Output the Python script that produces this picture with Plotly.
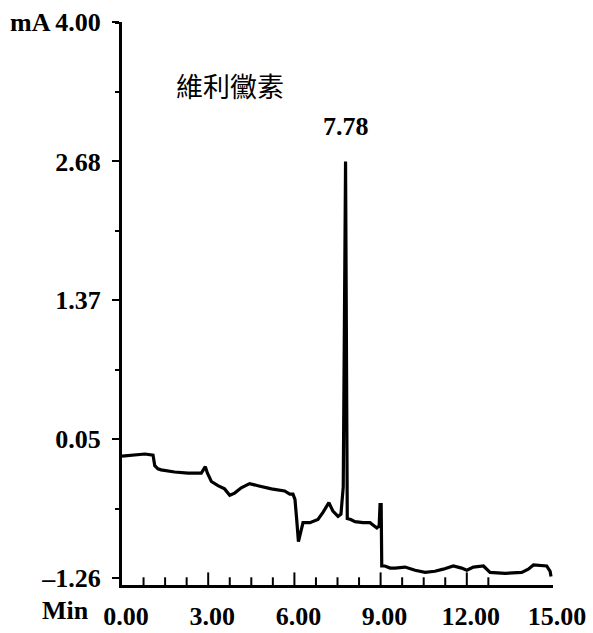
import plotly.graph_objects as go

# Chromatogram trace: retention time (min) vs detector signal (mA)
time_min = [
    0.00, 0.45, 0.80, 1.08, 1.14, 1.25, 1.36, 1.83, 2.30, 2.76, 2.90, 2.97,
    3.11, 3.34, 3.57, 3.75, 3.92, 4.15, 4.44, 4.73, 5.20, 5.66, 5.84, 5.95,
    6.02, 6.08, 6.14, 6.22, 6.30, 6.54, 6.82, 7.00, 7.20, 7.34, 7.52, 7.62,
    7.70, 7.78, 7.84, 7.96, 8.11, 8.39, 8.63, 8.87, 8.95, 8.98, 9.02, 9.04,
    9.15, 9.33, 9.50, 9.85, 10.20, 10.55, 10.89, 11.18, 11.53, 11.82, 12.00,
    12.23, 12.58, 12.81, 13.33, 13.91, 14.14, 14.32, 14.61, 14.78, 14.90, 14.93,
]
signal_mA = [
    -0.11, -0.10, -0.09, -0.10, -0.20, -0.23, -0.24, -0.26, -0.27, -0.27, -0.21, -0.27,
    -0.35, -0.39, -0.42, -0.48, -0.46, -0.41, -0.37, -0.39, -0.42, -0.44, -0.47, -0.47,
    -0.52, -0.71, -0.92, -0.83, -0.74, -0.74, -0.71, -0.64, -0.55, -0.63, -0.68, -0.66,
    -0.40, 2.68, -0.70, -0.71, -0.73, -0.74, -0.74, -0.79, -0.77, -0.57, -0.57, -1.15,
    -1.15, -1.17, -1.17, -1.16, -1.19, -1.21, -1.20, -1.18, -1.15, -1.17, -1.19,
    -1.16, -1.15, -1.21, -1.22, -1.21, -1.18, -1.14, -1.15, -1.15, -1.20, -1.25,
]

# Axis ticks and labels
y_ticks = [4.00, 2.68, 1.37, 0.05, -1.26]
y_ticktext = ["4.00", "2.68", "1.37", "0.05", "–1.26"]
x_ticks = [0, 3, 6, 9, 12, 15]
x_ticktext = ["0.00", "3.00", "6.00", "9.00", "12.00", "15.00"]
x_major_marks = [3, 6, 9, 12]
x_minor_marks = [0.75 * i for i in range(1, 18) if i % 4 != 0]

peak_time = 7.78
peak_height = 2.68
compound_name = "維利黴素"

SERIF = "Liberation Serif, Times New Roman, serif"
FS = 26
X_RANGE = [0, 15]
Y_RANGE = [-1.33, 4.00]

fig = go.Figure()
fig.add_trace(go.Scatter(
    x=time_min, y=signal_mA, mode="lines",
    line=dict(color="black", width=3.2), showlegend=False, hoverinfo="skip",
))

# Upward tick marks on the time axis: vertical-line markers sitting on the
# bottom edge of the plot area; the half below the edge is clipped away.
for marks, size in ((x_major_marks, 18), (x_minor_marks, 11)):
    fig.add_trace(go.Scatter(
        x=marks, y=[Y_RANGE[0]] * len(marks), mode="markers", cliponaxis=True,
        marker=dict(symbol="line-ns", size=size, color="black",
                    line=dict(width=2, color="black")),
        showlegend=False, hoverinfo="skip",
    ))

fig.update_layout(
    width=593, height=633,
    margin=dict(l=122, r=40, t=22, b=48, autoexpand=False),
    paper_bgcolor="white", plot_bgcolor="white",
    font=dict(family=SERIF, size=FS, color="black"),
    xaxis=dict(
        range=X_RANGE, showgrid=False, zeroline=False, automargin=False,
        showline=True, linecolor="black", linewidth=3,
        tickmode="array", tickvals=x_ticks, ticktext=x_ticktext,
        ticks="", ticklabelshift=4, ticklabelstandoff=6,
        tickfont=dict(family=SERIF, size=FS, color="black", weight="bold"),
    ),
    yaxis=dict(
        range=Y_RANGE, showgrid=False, zeroline=False, automargin=False,
        showline=True, linecolor="black", linewidth=3,
        tickmode="array", tickvals=y_ticks, ticktext=y_ticktext,
        ticks="outside", ticklen=7, tickwidth=2, tickcolor="black",
        ticklabelstandoff=6,
        tickfont=dict(family=SERIF, size=FS, color="black", weight="bold"),
        minor=dict(ticks="outside", ticklen=4, tickwidth=2, tickcolor="black",
                   dtick=0.6575, tick0=0.05, showgrid=False),
    ),
)

fig.add_annotation(
    xref="paper", yref="y", x=-0.265, y=4.00, xanchor="left", yanchor="middle",
    text="<b>mA</b>", showarrow=False, font=dict(family=SERIF, size=FS),
)
fig.add_annotation(
    xref="paper", yref="paper", x=-0.19, y=-0.046, xanchor="left", yanchor="middle",
    text="<b>Min</b>", showarrow=False, font=dict(family=SERIF, size=FS),
)
fig.add_annotation(
    x=peak_time, y=peak_height, yshift=35, xanchor="center", yanchor="middle",
    text="<b>%.2f</b>" % peak_time, showarrow=False, font=dict(family=SERIF, size=FS),
)
fig.add_annotation(
    x=3.76, y=3.40, xanchor="center", yanchor="middle",
    text=compound_name, showarrow=False,
    font=dict(family="Noto Sans CJK TC, Noto Sans CJK SC, sans-serif", size=27),
)

fig.write_html("out.html")
